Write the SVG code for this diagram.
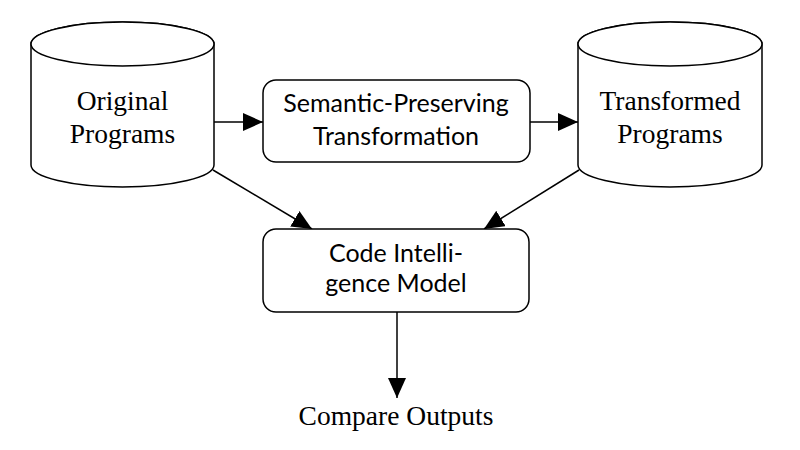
<svg xmlns="http://www.w3.org/2000/svg" width="800" height="450" viewBox="0 0 800 450">
<style>
.shape{fill:#fff;stroke:#000;stroke-width:1.5}
.edge{fill:none;stroke:#000;stroke-width:1.5}
.serif{font-family:"Liberation Serif","DejaVu Serif",serif;font-size:27.5px;fill:#000;text-anchor:middle}
.sans{font-family:"Lato","Liberation Sans",sans-serif;font-size:25px;fill:#000;text-anchor:middle}
</style>
<defs>
<marker id="arr" markerUnits="userSpaceOnUse" markerWidth="20" markerHeight="18" refX="20" refY="9" orient="auto">
<path d="M0,0 L20,9 L0,18 z" fill="#000"/>
</marker>
</defs>
<rect width="800" height="450" fill="#fff"/>
<g id="connectors">
<line class="edge" x1="214" y1="122" x2="263" y2="122" marker-end="url(#arr)"/>
<line class="edge" x1="530" y1="122" x2="578" y2="122" marker-end="url(#arr)"/>
<line class="edge" x1="213" y1="170" x2="312" y2="229" marker-end="url(#arr)"/>
<line class="edge" x1="579" y1="170" x2="484" y2="229" marker-end="url(#arr)"/>
<line class="edge" x1="397" y1="312" x2="397" y2="398" marker-end="url(#arr)"/>
</g>
<g id="original-programs">
<path class="shape" d="M31,44 L31,165 A91.5,22 0 0 0 214,165 L214,44 A91.5,22 0 0 0 31,44 Z"/>
<ellipse class="shape" cx="122.5" cy="44" rx="91.5" ry="22"/>
<text class="serif" x="122.5" y="110">Original</text>
<text class="serif" x="122.5" y="143">Programs</text>
</g>
<g id="transformed-programs">
<path class="shape" d="M578,44 L578,165 A92,22 0 0 0 762,165 L762,44 A92,22 0 0 0 578,44 Z"/>
<ellipse class="shape" cx="670" cy="44" rx="92" ry="22"/>
<text class="serif" x="670" y="110">Transformed</text>
<text class="serif" x="670" y="143">Programs</text>
</g>
<g id="transformation">
<rect class="shape" x="263" y="80" width="267" height="82" rx="13"/>
<text class="sans" x="396" y="112">Semantic-Preserving</text>
<text class="sans" x="396" y="145">Transformation</text>
</g>
<g id="model">
<rect class="shape" x="263" y="229" width="266" height="83" rx="13"/>
<text class="sans" x="396" y="262">Code Intelli-</text>
<text class="sans" x="396" y="292">gence Model</text>
</g>
<g id="compare-outputs">
<text class="serif" x="396" y="425">Compare Outputs</text>
</g>
</svg>
